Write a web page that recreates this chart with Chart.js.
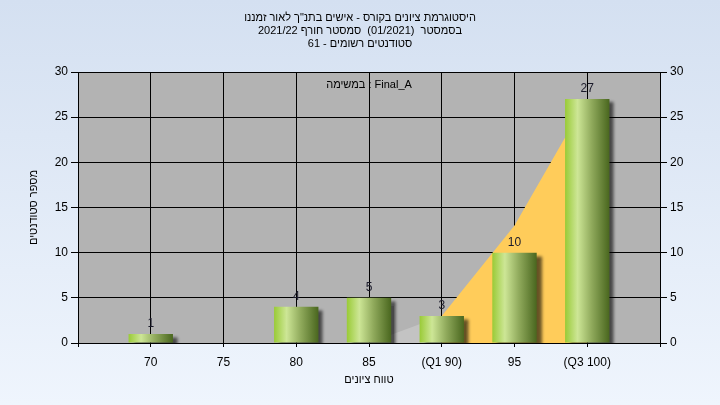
<!DOCTYPE html>
<html>
<head>
<meta charset="utf-8">
<script src="https://cdn.jsdelivr.net/npm/chart.js@4.4.0/dist/chart.umd.min.js"></script>
<style>
  html, body { margin: 0; padding: 0; background: #e4ecf8; }
  #chart { display: block; }
</style>
</head>
<body>
<canvas id="chart" width="720" height="405"></canvas>
<script>
// grade buckets and number of students in each
const categories = ['70', '75', '80', '85', '(Q1 90)', '95', '(Q3 100)'];
const students = [1, 0, 4, 5, 3, 10, 27];
// shaded area behind the bars (below Q1 grey, Q1..Q3 orange)
const belowQ1 = [null, null, null, 0, 3, null, null];
const quartileBand = [null, null, null, null, 3, 13, 27];

const titleLines = [
    'היסטוגרמת ציונים בקורס - אישים בתנ"ך לאור זמננו',
    'בסמסטר  (01/2021)  סמסטר חורף 2021/22',
    'סטודנטים רשומים - 61'
];
const taskLabel = 'במשימה : Final_A';
const yTitle = 'מספר סטודנטים';
const xTitle = 'טווח ציונים';

const FONT = 'Liberation Sans';

// empty slot at both ends, like the original chart
const pad = arr => [null].concat(arr, [null]);
const labels = [''].concat(categories, ['']);

const barGradient = (ctx) => {
    const chart = ctx.chart;
    const x = chart.scales.x;
    if (!x || ctx.dataIndex === undefined) return '#9ccc3c';
    const cx = x.getPixelForValue(ctx.dataIndex);
    if (!isFinite(cx)) return '#9ccc3c';
    const half = 22;
    const g = chart.ctx.createLinearGradient(cx - half, 0, cx + half, 0);
    g.addColorStop(0, '#9acb38');
    g.addColorStop(0.28, '#cde696');
    g.addColorStop(0.6, '#90aa5c');
    g.addColorStop(1, '#4a671f');
    return g;
};

const backdrop = {
    id: 'backdrop',
    beforeDraw(chart) {
        const { ctx, chartArea: a } = chart;
        ctx.save();
        const g = ctx.createLinearGradient(0, 0, 0, chart.height);
        g.addColorStop(0, '#d4e0f1');
        g.addColorStop(1, '#eff5fd');
        ctx.fillStyle = g;
        ctx.fillRect(0, 0, chart.width, chart.height);
        ctx.fillStyle = '#b3b3b3';
        ctx.fillRect(a.left, a.top, a.right - a.left, a.bottom - a.top);
        ctx.restore();
    },
    afterDraw(chart) {
        const ctx = chart.ctx;
        ctx.save();
        ctx.fillStyle = '#000';
        ctx.font = '11px "' + FONT + '"';
        ctx.textAlign = 'center';
        ctx.textBaseline = 'middle';
        ctx.direction = 'rtl';
        titleLines.forEach((t, i) => ctx.fillText(t, 360, 18 + i * 13));
        ctx.restore();
    }
};

const barShadow = {
    id: 'barShadow',
    beforeDatasetDraw(chart, args) {
        if (args.meta.type !== 'bar') return;
        const ctx = chart.ctx;
        ctx.save();
        ctx.shadowColor = 'rgba(0,0,0,0.6)';
        ctx.shadowBlur = 3;
        ctx.shadowOffsetX = 5;
        ctx.shadowOffsetY = 3;
    },
    afterDatasetDraw(chart, args) {
        if (args.meta.type !== 'bar') return;
        chart.ctx.restore();
    },
    afterDatasetsDraw(chart) {
        const ctx = chart.ctx;
        const meta = chart.getDatasetMeta(0);
        ctx.save();
        ctx.font = '12px "' + FONT + '"';
        ctx.fillStyle = '#1a1a2a';
        ctx.textAlign = 'center';
        ctx.textBaseline = 'alphabetic';
        meta.data.forEach((el, i) => {
            const v = chart.data.datasets[0].data[i];
            if (!v) return;
            ctx.fillText(String(v), el.x, el.y - 7);
        });
        const a = chart.chartArea;
        ctx.font = '11px "' + FONT + '"';
        ctx.fillStyle = '#000';
        ctx.textBaseline = 'middle';
        ctx.direction = 'ltr';
        ctx.fillText(taskLabel, (a.left + a.right) / 2, 85);
        ctx.restore();
    }
};

new Chart(document.getElementById('chart'), {
    type: 'bar',
    data: {
        labels: labels,
        datasets: [
            {
                type: 'bar',
                data: pad(students),
                backgroundColor: barGradient,
                borderWidth: 0,
                categoryPercentage: 1,
                barPercentage: 0.61,
                order: 0
            },
            {
                type: 'line',
                data: pad(belowQ1),
                fill: 'origin',
                backgroundColor: '#c3c3c3',
                borderWidth: 0,
                pointRadius: 0,
                tension: 0,
                order: 2
            },
            {
                type: 'line',
                data: pad(quartileBand),
                fill: 'origin',
                backgroundColor: '#ffcc5a',
                borderWidth: 0,
                pointRadius: 0,
                tension: 0,
                order: 1
            }
        ]
    },
    options: {
        responsive: false,
        animation: false,
        devicePixelRatio: 1,
        layout: { padding: { top: 72, left: 0, right: 0, bottom: 0 } },
        plugins: {
            legend: { display: false },
            tooltip: { enabled: false }
        },
        scales: {
            x: {
                type: 'category',
                offset: false,
                grid: { offset: false, color: '#000', lineWidth: 1, tickLength: 4, tickColor: '#000' },
                border: { color: '#000' },
                ticks: {
                    autoSkip: false, maxRotation: 0, padding: 8,
                    color: '#000', font: { family: FONT, size: 12 }
                },
                title: {
                    display: true, text: xTitle, color: '#000',
                    font: { family: FONT, size: 11 }, padding: { top: 0, bottom: 18 }
                },
                afterFit: s => { s.height = 62; }
            },
            y: {
                position: 'left',
                min: 0, max: 30,
                grid: { color: '#000', lineWidth: 1, tickLength: 7, tickColor: '#000' },
                border: { color: '#000' },
                ticks: { stepSize: 5, padding: 3, color: '#000', font: { family: FONT, size: 12 } },
                title: {
                    display: true, text: yTitle, color: '#000',
                    font: { family: FONT, size: 11 }, padding: { top: 27, bottom: 0 }
                },
                afterFit: s => { s.width = 78; }
            },
            y2: {
                position: 'right',
                min: 0, max: 30,
                grid: { drawOnChartArea: false, tickLength: 7, tickColor: '#000' },
                border: { color: '#000' },
                ticks: { stepSize: 5, padding: 3, color: '#000', font: { family: FONT, size: 12 } },
                afterFit: s => { s.width = 60; }
            }
        }
    },
    plugins: [backdrop, barShadow]
});
</script>
</body>
</html>
